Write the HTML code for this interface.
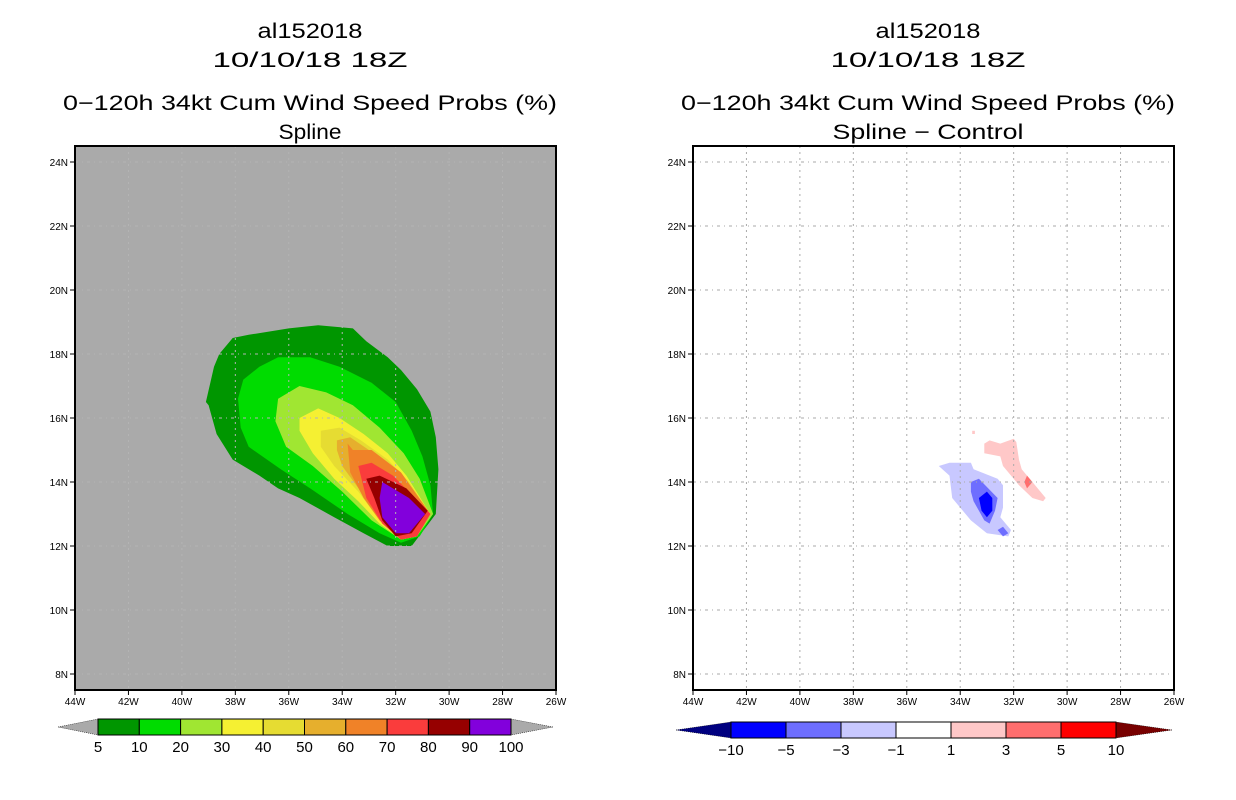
<!DOCTYPE html>
<html><head><meta charset="utf-8"><style>
html,body{margin:0;padding:0;background:#fff;}
svg{display:block;font-family:"Liberation Sans",sans-serif;}
</style></head><body>
<svg id="fig" width="1236" height="800" viewBox="0 0 1236 800" xmlns="http://www.w3.org/2000/svg"></svg>
<script>
// ---- data ----
const lonTicks = [44,42,40,38,36,34,32,30,28,26];
const latTicks = [8,10,12,14,16,18,20,22,24];
const probLevels = [5,10,20,30,40,50,60,70,80,90,100];
const probColors = ["#009600","#00dc00","#a0e632","#f5f032","#e6dc32","#e6af2d","#f08228","#fa3c3c","#960000","#8200dc"];
const diffLevels = [-10,-5,-3,-1,1,3,5,10];
const diffColors = ["#000080","#0000ff","#6e6eff","#c8c8ff","#ffffff","#ffc8c8","#ff6e6e","#ff0000","#780000"];
// contour polygons: [lonW, latN] pairs
const prob5  = [[38.1,18.5],[37.5,18.6],[36.0,18.8],[34.9,18.9],[33.6,18.8],[33.1,18.4],[32.3,17.9],[31.8,17.5],[31.2,16.9],[30.7,16.2],[30.5,15.4],[30.4,14.4],[30.5,13.0],[31.4,12.0],[32.3,12.0],[33.2,12.4],[34.3,12.9],[35.6,13.5],[36.4,13.8],[37.1,14.2],[38.1,14.7],[38.7,15.5],[39.0,16.4],[39.1,16.5],[38.8,17.6],[38.6,18.0]];
const prob10 = [[37.1,17.6],[36.4,17.9],[35.2,17.9],[34.1,17.6],[32.9,17.1],[32.0,16.5],[31.4,15.6],[31.0,14.8],[30.7,13.9],[30.6,13.0],[31.1,12.3],[31.8,12.1],[32.6,12.4],[33.8,13.0],[35.2,13.8],[36.3,14.4],[37.5,15.1],[37.8,15.7],[37.9,16.6],[37.7,17.2]];
const prob20 = [[36.4,16.6],[35.6,17.0],[34.6,16.8],[33.6,16.4],[32.6,15.7],[31.7,14.9],[31.1,14.1],[30.6,13.0],[31.2,12.3],[31.8,12.2],[32.9,12.8],[34.0,13.7],[35.1,14.5],[36.1,15.1],[36.5,15.9]];
const prob30 = [[35.6,16.0],[34.9,16.3],[34.1,16.0],[33.2,15.5],[32.3,14.9],[31.6,14.2],[30.7,13.0],[31.2,12.3],[31.8,12.2],[32.6,12.7],[33.4,13.4],[34.3,14.1],[35.1,14.9],[35.6,15.6]];
const prob40 = [[34.8,15.6],[34.1,15.7],[33.3,15.3],[32.3,14.7],[31.5,14.0],[30.7,13.0],[31.2,12.3],[31.8,12.2],[32.6,12.8],[33.4,13.7],[34.3,14.5],[34.8,15.1]];
const prob50 = [[34.2,15.3],[33.7,15.4],[33.0,15.0],[32.0,14.4],[30.7,13.0],[31.2,12.3],[31.8,12.2],[32.6,12.8],[33.3,13.7],[34.0,14.5],[34.2,15.0]];
const prob60 = [[33.8,15.2],[33.6,15.0],[32.9,15.0],[31.8,14.3],[30.7,13.0],[31.2,12.3],[31.8,12.2],[32.6,12.8],[33.2,13.5],[33.7,14.3]];
const prob70 = [[33.4,14.5],[32.9,14.6],[32.1,14.2],[30.7,13.0],[31.2,12.3],[31.8,12.2],[32.5,12.7],[33.1,13.5]];
const prob80 = [[33.1,14.1],[32.6,14.2],[31.6,13.8],[30.8,13.1],[31.4,12.4],[32.0,12.3],[32.5,12.8],[32.8,13.5]];
const prob90 = [[32.5,14.0],[31.5,13.5],[30.9,13.0],[31.5,12.4],[32.0,12.4],[32.5,12.9],[32.6,13.5]];
const diffNeg1 = [[34.8,14.5],[34.4,14.6],[33.6,14.6],[33.5,14.4],[32.6,14.1],[32.4,13.9],[32.4,13.2],[32.5,12.9],[32.1,12.5],[32.2,12.3],[33.0,12.4],[33.6,12.8],[34.3,13.5],[34.4,14.2]];
const diffNeg3 = [[33.6,14.0],[33.3,14.1],[32.6,13.5],[32.7,13.1],[32.9,12.7],[33.1,12.8],[33.5,13.4],[33.6,13.7]];
const diffNeg3b = [[32.6,12.5],[32.4,12.6],[32.2,12.4],[32.4,12.3]];
const diffNeg5 = [[33.3,13.5],[33.0,13.7],[32.8,13.5],[32.8,13.1],[33.0,12.9],[33.2,13.1]];
const diffPos1 = [[33.1,15.2],[32.9,15.3],[32.5,15.2],[32.0,15.35],[31.9,15.25],[31.8,14.7],[31.7,14.4],[31.3,14.0],[31.0,13.7],[30.8,13.5],[30.9,13.4],[31.3,13.5],[31.8,13.9],[32.4,14.5],[32.5,14.8],[33.1,14.9]];
const diffPos1b = [[33.55,15.6],[33.45,15.6],[33.45,15.5],[33.55,15.5]];
const diffPos3 = [[31.6,14.0],[31.5,14.2],[31.3,14.0],[31.5,13.8]];

// ---- layout ----
const NS="http://www.w3.org/2000/svg";
const svg=document.getElementById('fig');
function mk(tag,attrs,parent){const e=document.createElementNS(NS,tag);for(const k in attrs)e.setAttribute(k,attrs[k]);(parent||svg).appendChild(e);return e;}
const panels=[{x0:75,cx:310,bg:"#aaaaaa",grid:"#b4b4b4",name:"spline-panel"},{x0:693,cx:928,bg:"#ffffff",grid:"#aaaaaa",name:"difference-panel"}];
const W=481,Y0=146,H=544;
function xs(p,lon){return p.x0+(44-lon)/18*W;}
function ys(lat){return Y0+(24.5-lat)/17*H;}
function poly(p,pts,fill,g,name){
  const e=mk('polygon',{points:pts.map(q=>xs(p,q[0]).toFixed(1)+','+ys(q[1]).toFixed(1)).join(' '),fill:fill},g);
  
  
}
function txt(x,y,s,size,anchor,g,name,len){
  const t=mk('text',{x:x,y:y,'font-size':size,'text-anchor':anchor||'middle',fill:'#000'},g);
  if(len){t.setAttribute('textLength',len);t.setAttribute('lengthAdjust','spacingAndGlyphs');}
  t.textContent=s;
  
  
  return t;
}
const subtitles=["Spline","Spline \u2212 Control"];
const subLens=[63,191];
panels.forEach((p,i)=>{
  const g=mk('g',{});
  
  
  txt(p.cx,38,"al152018",21,'middle',g,'storm-id-title',105);
  txt(p.cx,67,"10/10/18 18Z",21,'middle',g,'date-title',195);
  txt(p.cx,110,"0\u2212120h 34kt Cum Wind Speed Probs (%)",21,'middle',g,'product-title',494);
  txt(p.cx,139,subtitles[i],21,'middle',g,'subtitle',subLens[i]);
  const bg=mk('rect',{x:p.x0,y:Y0,width:W,height:H,fill:p.bg},g);
  
  
  const cg=mk('g',{},g);
  
  
  if(i===0){
    const polys=[prob5,prob10,prob20,prob30,prob40,prob50,prob60,prob70,prob80,prob90];
    polys.forEach((pp,k)=>poly(p,pp,probColors[k],cg,'contour-'+probLevels[k]));
  } else {
    poly(p,diffNeg1,diffColors[3],cg,'contour-neg1');
    poly(p,diffNeg3,diffColors[2],cg,'contour-neg3');
    poly(p,diffNeg3b,diffColors[2],cg,'contour-neg3-small');
    poly(p,diffNeg5,diffColors[1],cg,'contour-neg5');
    poly(p,diffPos1,diffColors[5],cg,'contour-pos1');
    poly(p,diffPos1b,diffColors[5],cg,'contour-pos1-small');
    poly(p,diffPos3,diffColors[6],cg,'contour-pos3');
  }
  lonTicks.slice(1,-1).forEach(l=>{
    const e=mk('line',{x1:xs(p,l),x2:xs(p,l),y1:Y0,y2:Y0+H,stroke:p.grid,'stroke-width':1,'stroke-dasharray':'2,4'},g);
    
    
  });
  latTicks.forEach(l=>{
    const e=mk('line',{x1:p.x0,x2:p.x0+W,y1:ys(l),y2:ys(l),stroke:p.grid,'stroke-width':1,'stroke-dasharray':'3,4,1,4'},g);
    
    
  });
  const fr=mk('rect',{x:p.x0,y:Y0,width:W,height:H,fill:'none',stroke:'#000','stroke-width':2},g);
  
  
  lonTicks.forEach(l=>{
    const x=xs(p,l);
    const e=mk('line',{x1:x,x2:x,y1:Y0+H,y2:Y0+H+5,stroke:'#000','stroke-width':1},g);
    
    
    txt(x,Y0+H+15,l+"W",10,'middle',g,'x-tick-label');
  });
  latTicks.forEach(l=>{
    const y=ys(l);
    const e=mk('line',{x1:p.x0-5,x2:p.x0,y1:y,y2:y,stroke:'#000','stroke-width':1},g);
    
    
    txt(p.x0-7,y+4,l+"N",10,'end',g,'y-tick-label');
  });
});
function colorbar(tipL,x0,x1,tipR,y0,y1,colors,levels,name,extL,extR){
  const g=mk('g',{});
  
  
  const n=levels.length-1, w=(x1-x0)/n, ym=(y0+y1)/2;
  const lt=mk('polygon',{points:`${tipL},${ym} ${x0},${y0} ${x0},${y1}`,fill:extL,stroke:'#000','stroke-width':0.5,'stroke-dasharray':'1,1'},g);
  
  
  const rt=mk('polygon',{points:`${tipR},${ym} ${x1},${y0} ${x1},${y1}`,fill:extR,stroke:'#000','stroke-width':0.5,'stroke-dasharray':'1,1'},g);
  
  
  for(let k=0;k<n;k++){
    const r=mk('rect',{x:x0+k*w,y:y0,width:w,height:y1-y0,fill:colors[k],stroke:'#000','stroke-width':1},g);
    
    
  }
  levels.forEach((lv,k)=>{
    const s=lv<0?"\u2212"+(-lv):String(lv);
    txt(x0+k*w,y1+17,s,15,'middle',g,'colorbar-label');
  });
}
colorbar(58,98,511,553,719,735,probColors,probLevels,'prob-colorbar','#aaaaaa','#aaaaaa');
colorbar(676,731,1116,1172,722,738,diffColors.slice(1,8),diffLevels,'diff-colorbar',diffColors[0],diffColors[8]);
</script>
</body></html>
